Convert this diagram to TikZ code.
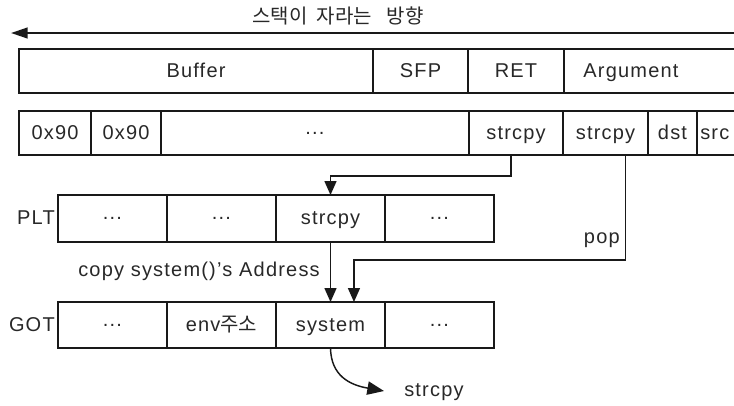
\documentclass[tikz,border=0pt]{standalone}
\usepackage{fontspec}
\setmainfont{Liberation Sans}[LetterSpace=6]
\newfontfamily\krfont{Noto Sans CJK KR}
\usetikzlibrary{arrows.meta}
\definecolor{ink}{RGB}{40,40,40}
\definecolor{edge}{RGB}{25,25,25}

% one memory cell: name, left, right, top, bottom (px), text
\newcommand\memcell[7][]{%
  \node[cellbox,#1,
        minimum width={(#4-#3)*0.75pt},
        minimum height={(#6-#5)*0.75pt}]
       (#2) at ({(#3+#4)/2},{(#5+#6)/2}) {#7};}

\begin{document}
\begin{tikzpicture}[x=0.75pt,y=-0.75pt,
  cellbox/.style={draw=edge, line width=1.1pt, inner sep=0pt, outer sep=0pt,
    font=\fontsize{15}{18}\selectfont, text=ink,
    text height=0.95em, text depth=0.05em},
  dotcell/.style={text height=, text depth=},
  lbl/.style={inner sep=0pt, font=\fontsize{15}{18}\selectfont, text=ink,
    text height=0.95em, text depth=0.05em},
  wire/.style={draw=edge, line width=1.1pt},
  tip/.style={-{Triangle[length=10.5pt,width=9pt]}},
  bigtip/.style={-{Triangle[length=12.5pt,width=10pt]}},
  growth/.style={draw=edge, line width=1.7pt, -{Triangle[length=12.5pt,width=8pt]}}
]
\useasboundingbox (0,0) rectangle (734,405);
\clip (0,0) rectangle (734,405);

% direction of stack growth
\node[lbl, font=\krfont\fontsize{15}{18}\selectfont] (title) at (338,17)
  {스택이\hspace{7pt}자라는\hspace{11pt}방향};
\coordinate (growR) at (745,33);
\coordinate (growL) at (11,33);
\draw[growth] (growR) -- (growL);

% stack frame layout
\memcell{buffer}{19}{373}{49}{93}{Buffer}
\memcell{sfp}{373}{468}{49}{93}{SFP}
\memcell{ret}{468}{564}{49}{93}{RET}
\memcell{arg}{564}{760}{49}{93}{}
\node[lbl] (argtext) at (631,71) {Argument};

% overwritten stack contents
\memcell{nopA}{19}{91}{111}{155}{0x90}
\memcell{nopB}{91}{161}{111}{155}{0x90}
\memcell[dotcell]{fill}{161}{469}{111}{155}{...}
\memcell{retcpy}{469}{563}{111}{155}{strcpy}
\memcell{callcpy}{563}{648}{111}{155}{strcpy}
\memcell{dst}{648}{697}{111}{155}{dst}
\memcell{src}{697}{760}{111}{155}{}
\node[lbl, anchor=west] (srctext) at (700,133) {src};

% procedure linkage table
\node[lbl, anchor=east] (pltname) at (55,218) {PLT};
\memcell[dotcell]{pltA}{58}{167}{195}{242}{...}
\memcell[dotcell]{pltB}{167}{276}{195}{242}{...}
\memcell{pltcpy}{276}{385}{195}{242}{strcpy}
\memcell[dotcell]{pltD}{385}{494}{195}{242}{...}

% global offset table
\node[lbl, anchor=east] (gotname) at (55,325) {GOT};
\memcell[dotcell]{gotA}{58}{167}{302}{348}{...}
\memcell{gotenv}{167}{276}{302}{348}{env{\krfont 주소}}
\memcell{gotsys}{276}{385}{302}{348}{system}
\memcell[dotcell]{gotD}{385}{494}{302}{348}{...}

% RET -> PLT entry
\draw[wire, tip] ([xshift=-3.75pt]retcpy.south) -- ++(0,21) -| (pltcpy.north);

% pop -> GOT entry
\draw[wire, tip] ([xshift=15pt]callcpy.south) -- ++(0,105)
  -| ([xshift=17.6pt]gotsys.north);
\node[lbl, anchor=east] (poplbl) at (620,237) {pop};

% copy of system()'s address
\draw[wire, tip] (pltcpy.south) -- (gotsys.north);
\node[lbl, anchor=east] (copylbl) at (320,270) {copy system()'s Address};

% resolved call
\coordinate (calltip) at (384,391);
\draw[wire, bigtip] (gotsys.south) .. controls (331,376) and (350,385) .. (calltip);
\node[lbl, anchor=west] (calllbl) at (404,390) {strcpy};
\end{tikzpicture}
\end{document}
